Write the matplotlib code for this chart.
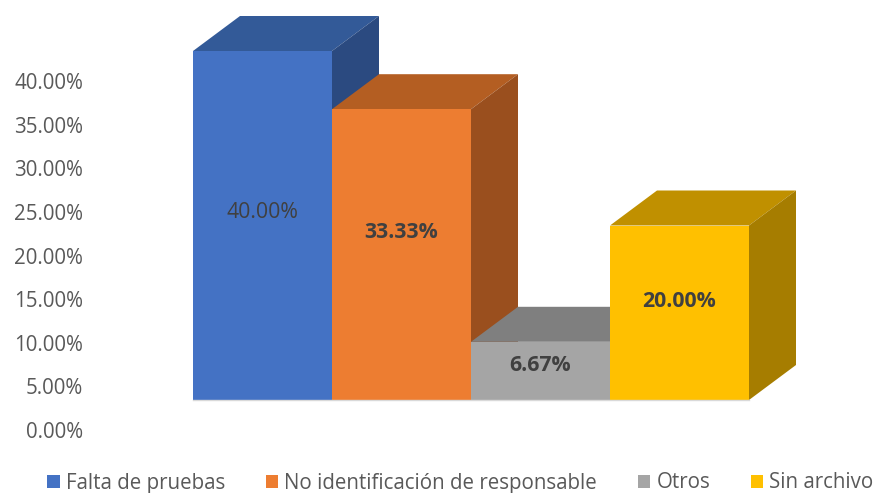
import matplotlib.pyplot as plt
from matplotlib.patches import Polygon, Patch
from matplotlib.transforms import ScaledTranslation, offset_copy

categories = ["Falta de pruebas", "No identificación de responsable", "Otros", "Sin archivo"]
values = [40.00, 33.33, 6.67, 20.00]
labels = ["40.00%", "33.33%", "6.67%", "20.00%"]
label_bold = [False, True, True, True]
yticks = [0, 5, 10, 15, 20, 25, 30, 35, 40]

front_colors = ["#4472C4", "#ED7D31", "#A5A5A5", "#FFC000"]
top_colors = ["#335A98", "#B45E22", "#7F7F7F", "#C09000"]
side_colors = ["#2B4A80", "#9A4F1E", "#6E6E6E", "#A67D00"]
label_nudge_px = [13, 22, 5, 11]   # label lift above the front face centre

plt.rcParams['font.family'] = ['Open Sans', 'DejaVu Sans']

W, H = 876, 493
fig = plt.figure(figsize=(W / 100, H / 100), dpi=100)
# axes: x 0..4 over the bar fronts, y 0..40 over the tick labels
ax = fig.add_axes([193 / W, (H - 430) / H, (749 - 193) / W, (430 - 81) / H])
ax.set_xlim(0, len(values))
ax.set_ylim(0, 40)
for s in ax.spines.values():
    s.set_visible(False)
ax.set_xticks([])
ax.set_yticks(yticks)
ax.set_yticklabels([f"{t:.2f}%" for t in yticks])
ax.tick_params(axis='y', length=0, pad=79, labelsize=14.8, labelcolor="#595959")

px_x = (749 - 193) / len(values)   # pixels per bar unit
px_y = (430 - 81) / 40             # pixels per percent
dx = 47 / px_x                     # depth in data units
dy = 35 / px_y
front_tr = ax.transData + ScaledTranslation(0, 0.30, fig.dpi_scale_trans)

# floor line
ax.plot([0, len(values)], [0, 0], color="#D9D9D9", lw=1, transform=front_tr, clip_on=False)

for i, v in enumerate(values):
    x0, x1 = i, i + 1
    top = Polygon([(x0, v), (x1, v), (x1 + dx, v + dy), (x0 + dx, v + dy)],
                  closed=True, fc=top_colors[i], ec="none", transform=front_tr, clip_on=False)
    side = Polygon([(x1, 0), (x1 + dx, dy), (x1 + dx, v + dy), (x1, v)],
                   closed=True, fc=side_colors[i], ec="none", transform=front_tr, clip_on=False)
    front = Polygon([(x0, 0), (x1, 0), (x1, v), (x0, v)],
                    closed=True, fc=front_colors[i], ec="none", transform=front_tr, clip_on=False)
    ax.add_patch(top)
    ax.add_patch(side)
    ax.add_patch(front)
    tr = offset_copy(front_tr, fig=fig, y=label_nudge_px[i], units='dots')
    ax.text(i + 0.5, v / 2, labels[i], transform=tr, ha='center', va='center',
            fontsize=15.3, color="#404040", fontweight='bold' if label_bold[i] else 'normal')

handles = [Patch(fc=c, ec="none") for c in front_colors]
fig.legend(handles, categories, loc='center', bbox_to_anchor=(460.5 / W, (H - 483) / H), ncol=4,
           frameon=False, fontsize=14.8, labelcolor="#595959", handlelength=0.6, handleheight=0.6,
           handletextpad=0.3, columnspacing=1.98, borderpad=0)

fig.savefig("out.png", dpi=100)
